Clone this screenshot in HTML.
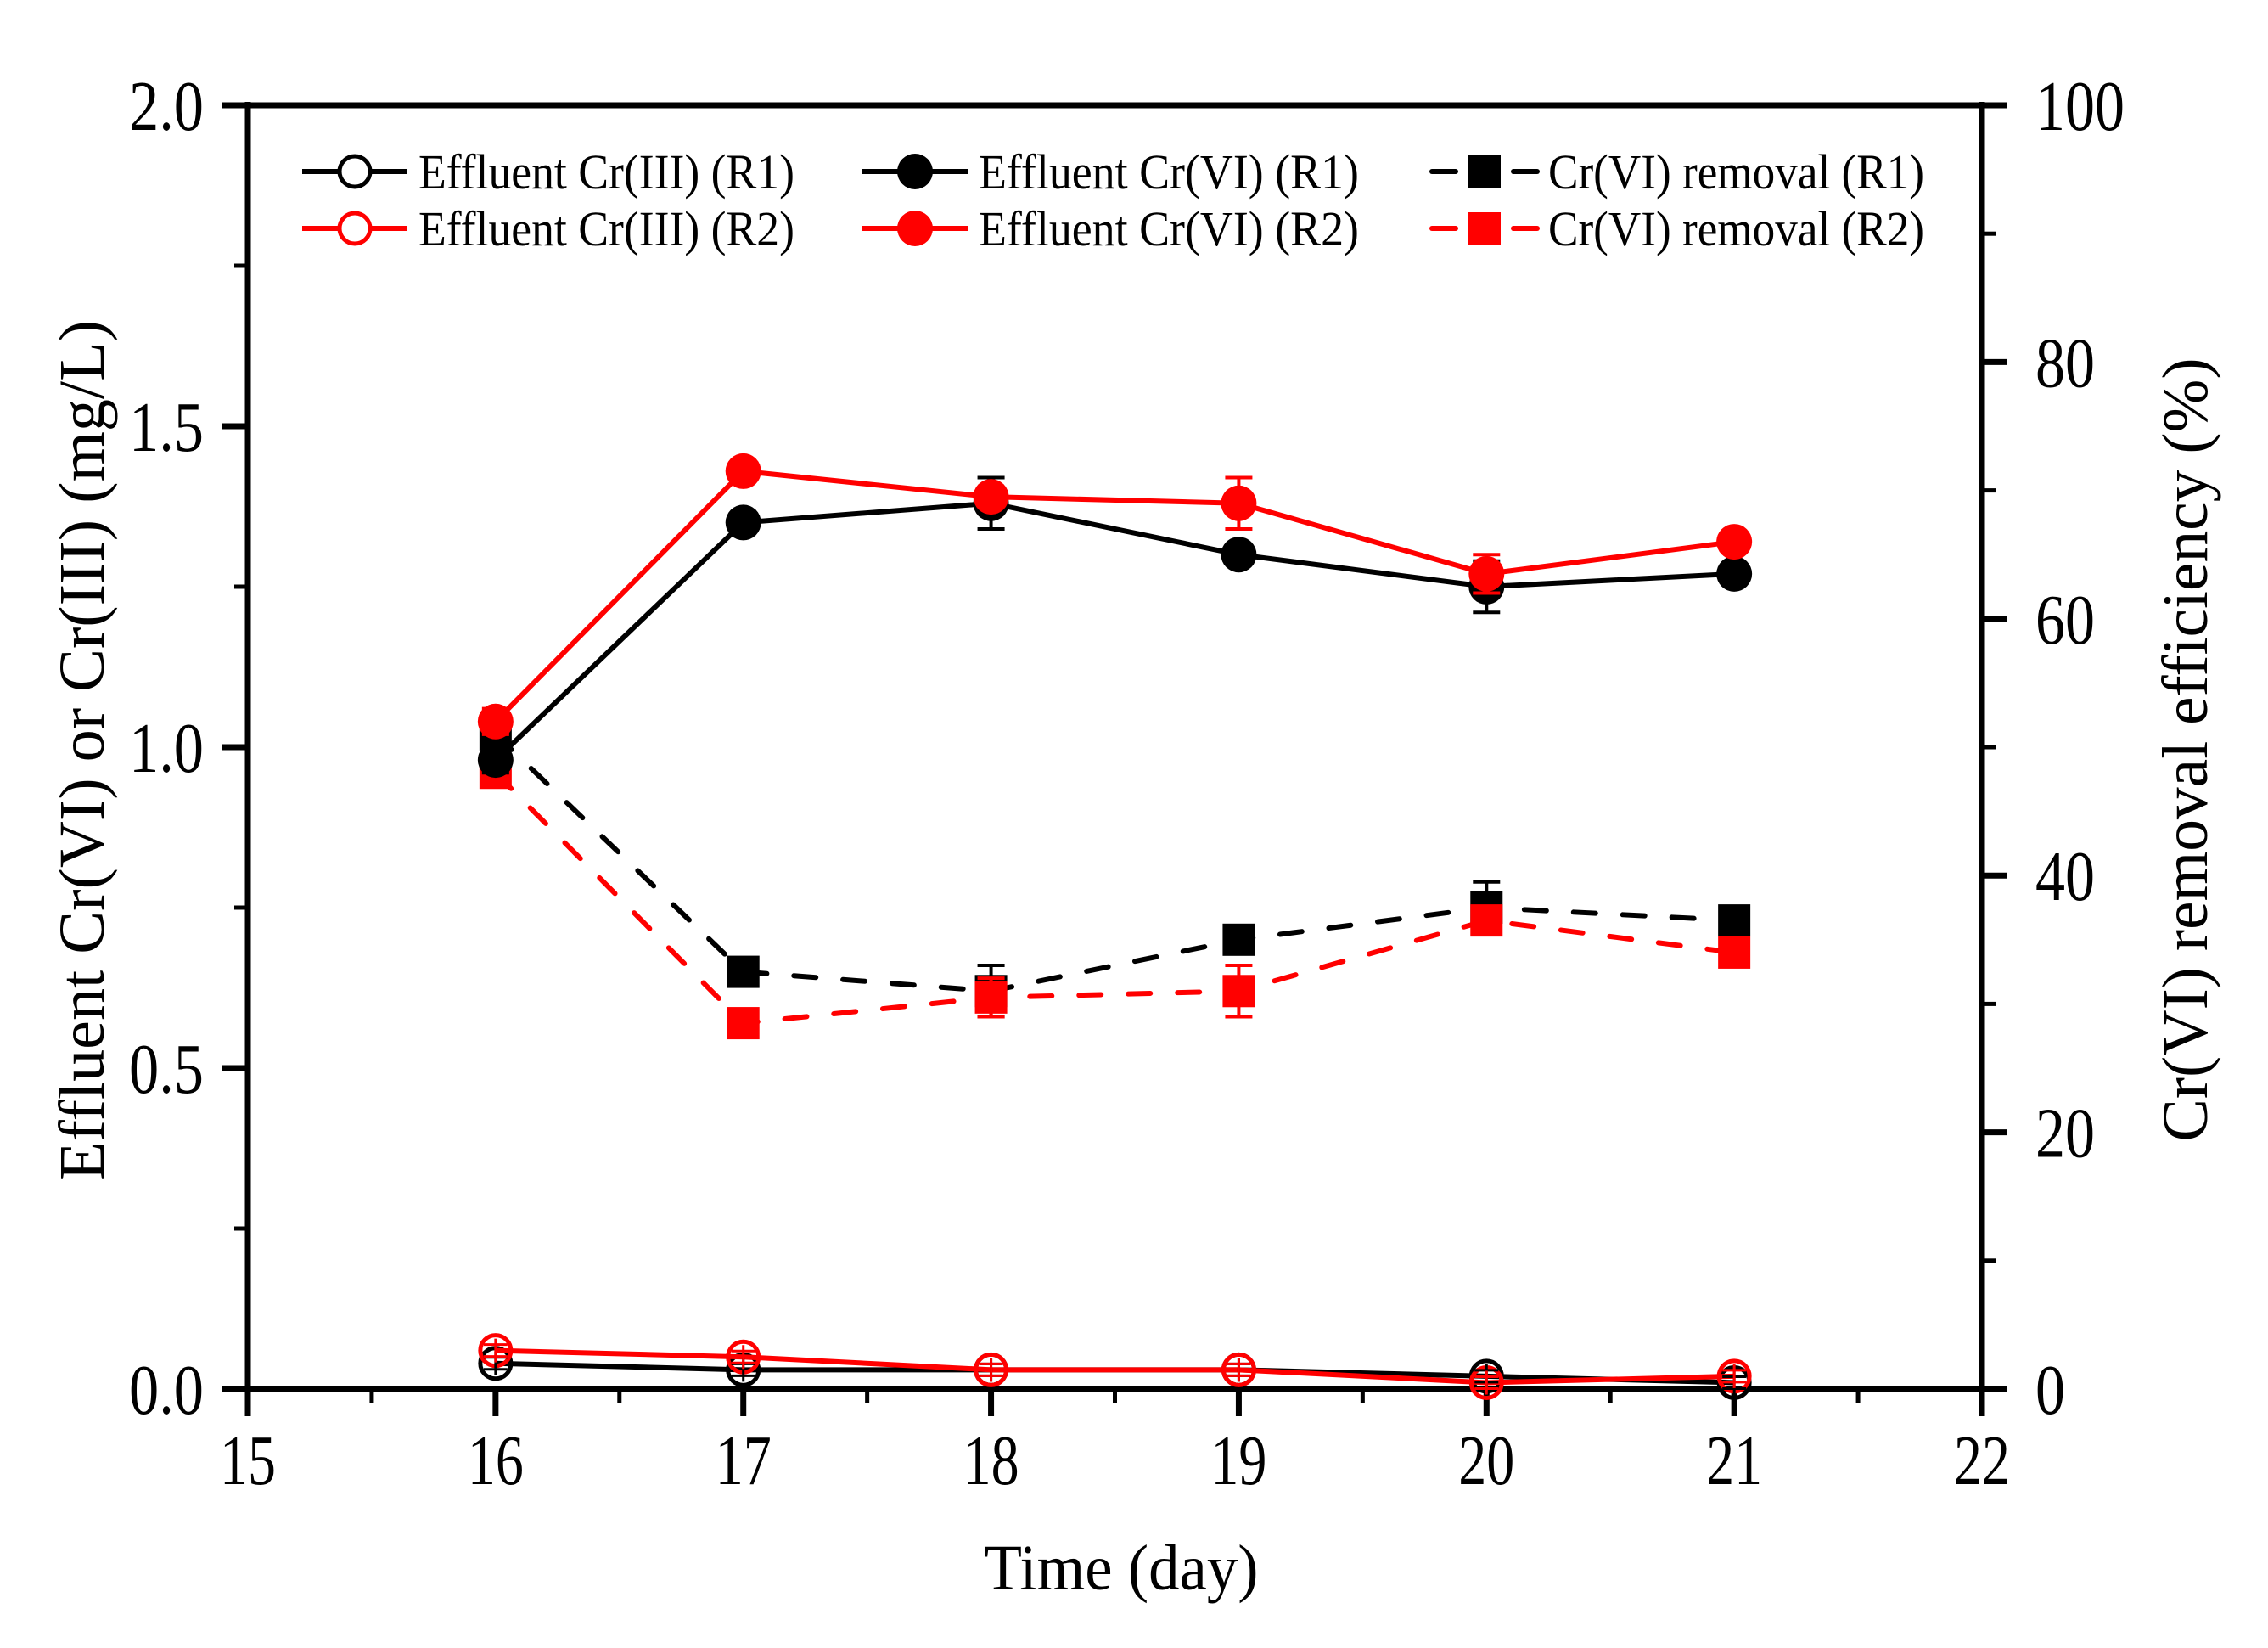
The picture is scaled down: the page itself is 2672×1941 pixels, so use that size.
<!DOCTYPE html>
<html><head><meta charset="utf-8"><style>
html,body{margin:0;padding:0;background:#fff;}
svg{display:block;}
text{font-family:"Liberation Serif",serif;fill:#000;}
</style></head><body>
<svg id="chart" width="2672" height="1941" viewBox="0 0 2672 1941" xmlns="http://www.w3.org/2000/svg">
<g id="plot"></g>
</svg>
<script>
const days = [16, 17, 18, 19, 20, 21];
const cr6R1 = [0.98, 1.35, 1.38, 1.30, 1.25, 1.27];
const cr6R1Err = [0.02, 0.0, 0.04, 0.0, 0.04, 0.0];
const cr6R2 = [1.04, 1.43, 1.39, 1.38, 1.27, 1.32];
const cr6R2Err = [0.02, 0.0, 0.0, 0.04, 0.03, 0.0];
const cr3R1 = [0.04, 0.03, 0.03, 0.03, 0.02, 0.01];
const cr3R2 = [0.06, 0.05, 0.03, 0.03, 0.01, 0.02];
const remR1 = [51, 32.5, 31, 35, 37.5, 36.5];
const remR1Err = [0, 0, 2, 0, 2, 0];
const remR2 = [48, 28.5, 30.5, 31, 36.5, 34];
const remR2Err = [0, 0, 1.5, 2, 1, 0];
const xTicks = [15, 16, 17, 18, 19, 20, 21, 22];
const yTicks = ["0.0", "0.5", "1.0", "1.5", "2.0"];
const y2Ticks = ["0", "20", "40", "60", "80", "100"];

const L = 292, R = 2335, T = 124, B = 1636;
const xs = d => L + (d - 15) / 7 * (R - L);
const ys = v => B - v / 2 * (B - T);
const ys2 = v => B - v / 100 * (B - T);
const NS = "http://www.w3.org/2000/svg";
const g = document.getElementById('plot');
function el(tag, attrs, parent) {
  const e = document.createElementNS(NS, tag);
  for (const k in attrs) e.setAttribute(k, attrs[k]);
  (parent || g).appendChild(e);
  return e;
}
function txt(s, attrs) { const t = el('text', attrs); t.textContent = s; return t; }

let a;
a = el('line', {x1: L, y1: B, x2: R + 4, y2: B, stroke: '#000', 'stroke-width': 7});


a = el('line', {x1: L - 4, y1: T, x2: R + 4, y2: T, stroke: '#000', 'stroke-width': 7});


a = el('line', {x1: L, y1: T - 4, x2: L, y2: B + 4, stroke: '#000', 'stroke-width': 7});


a = el('line', {x1: R, y1: T - 4, x2: R, y2: B + 4, stroke: '#000', 'stroke-width': 7});



xTicks.forEach((d, i) => {
  const x = xs(d);
  const t = el('line', {x1: x, y1: B, x2: x, y2: B + 32, stroke: '#000', 'stroke-width': 7});
  
  
  if (i < xTicks.length - 1) {
    const m = el('line', {x1: x + (xs(1) - xs(0)) / 2, y1: B, x2: x + (xs(1) - xs(0)) / 2, y2: B + 16, stroke: '#000', 'stroke-width': 5});
    
    
  }
  const lb = txt(String(d), {x: x, y: B + 112, 'font-size': 84, 'text-anchor': 'middle', textLength: 66, lengthAdjust: 'spacingAndGlyphs'});
  
  
});
yTicks.forEach((s, i) => {
  const v = parseFloat(s), y = ys(v);
  const t = el('line', {x1: L - 30, y1: y, x2: L, y2: y, stroke: '#000', 'stroke-width': 7});
  
  
  if (i < yTicks.length - 1) {
    const m = el('line', {x1: L - 16, y1: ys(v + 0.25), x2: L, y2: ys(v + 0.25), stroke: '#000', 'stroke-width': 5});
    
    
  }
  const lb = txt(s, {x: 240, y: y + 29, 'font-size': 84, 'text-anchor': 'end', textLength: 88, lengthAdjust: 'spacingAndGlyphs'});
  
  
});
y2Ticks.forEach((s, i) => {
  const v = parseFloat(s), y = ys2(v);
  const t = el('line', {x1: R, y1: y, x2: R + 30, y2: y, stroke: '#000', 'stroke-width': 7});
  
  
  if (i < y2Ticks.length - 1) {
    const m = el('line', {x1: R, y1: ys2(v + 10), x2: R + 16, y2: ys2(v + 10), stroke: '#000', 'stroke-width': 5});
    
    
  }
  const lb = txt(s, {x: 2398, y: y + 29, 'font-size': 84, 'text-anchor': 'start', textLength: s.length * 35, lengthAdjust: 'spacingAndGlyphs'});
  
  
});

let at = txt('Time (day)', {x: 1321, y: 1872, 'font-size': 76, 'text-anchor': 'middle', textLength: 323, lengthAdjust: 'spacingAndGlyphs'});


at = txt('Effluent Cr(VI) or Cr(III) (mg/L)', {x: 0, y: 0, 'font-size': 76, 'text-anchor': 'middle', textLength: 1014, lengthAdjust: 'spacingAndGlyphs', transform: 'translate(122,884) rotate(-90)'});


at = txt('Cr(VI) removal efficiency (%)', {x: 0, y: 0, 'font-size': 76, 'text-anchor': 'middle', textLength: 923, lengthAdjust: 'spacingAndGlyphs', transform: 'translate(2600,883) rotate(-90)'});



function errBars(vals, errs, scale, color, name) {
  days.forEach((d, i) => {
    if (!errs[i]) return;
    const x = xs(d), y1 = scale(vals[i] - errs[i]), y2 = scale(vals[i] + errs[i]);
    const e = el('path', {d: `M${x},${y1}V${y2}M${x-16},${y1}H${x+16}M${x-16},${y2}H${x+16}`, stroke: color, 'stroke-width': 4, fill: 'none'});
    
    
  });
}
function series(vals, scale, color, dashed, marker, name) {
  const pts = days.map((d, i) => xs(d) + ',' + scale(vals[i])).join(' ');
  const attrs = {points: pts, fill: 'none', stroke: color, 'stroke-width': 6};
  if (dashed) { attrs['stroke-dasharray'] = '26 32'; attrs['stroke-linecap'] = 'round'; }
  const pl = el('polyline', attrs);
  
  
  days.forEach((d, i) => {
    const x = xs(d), y = scale(vals[i]);
    let m;
    if (marker === 'open') m = el('circle', {cx: x, cy: y, r: 18, fill: 'none', stroke: color, 'stroke-width': 5});
    else if (marker === 'filled') m = el('circle', {cx: x, cy: y, r: 21, fill: color});
    else m = el('rect', {x: x - 19, y: y - 19, width: 38, height: 38, fill: color});
    
    
  });
}
errBars(remR1, remR1Err, ys2, '#000', 'removal-r1');
series(remR1, ys2, '#000', true, 'square', 'removal-r1');
errBars(remR2, remR2Err, ys2, '#f00', 'removal-r2');
series(remR2, ys2, '#f00', true, 'square', 'removal-r2');
errBars(cr6R1, cr6R1Err, ys, '#000', 'cr6-r1');
series(cr6R1, ys, '#000', false, 'filled', 'cr6-r1');
errBars(cr6R2, cr6R2Err, ys, '#f00', 'cr6-r2');
series(cr6R2, ys, '#f00', false, 'filled', 'cr6-r2');
series(cr3R1, ys, '#000', false, 'open', 'cr3-r1');
series(cr3R2, ys, '#f00', false, 'open', 'cr3-r2');
[cr3R1, cr3R2].forEach((arr, k) => days.forEach((d, i) => {
  const x = xs(d), y = ys(arr[i]);
  const c = k ? '#f00' : '#000';
  const e = el('path', {d: `M${x},${y-14}V${y+14}M${x-14},${y-7}H${x+14}M${x-14},${y+7}H${x+14}`, stroke: c, 'stroke-width': 3});
  
  
}));

const legend = el('g', {});


const legItems = [
  {x: 356, y: 202, c: '#000', m: 'open', dash: false, t: 'Effluent Cr(III) (R1)', w: 443},
  {x: 356, y: 269, c: '#f00', m: 'open', dash: false, t: 'Effluent Cr(III) (R2)', w: 443},
  {x: 1016, y: 202, c: '#000', m: 'filled', dash: false, t: 'Effluent Cr(VI) (R1)', w: 448},
  {x: 1016, y: 269, c: '#f00', m: 'filled', dash: false, t: 'Effluent Cr(VI) (R2)', w: 448},
  {x: 1687, y: 202, c: '#000', m: 'square', dash: true, t: 'Cr(VI) removal (R1)', w: 443},
  {x: 1687, y: 269, c: '#f00', m: 'square', dash: true, t: 'Cr(VI) removal (R2)', w: 443},
];
legItems.forEach(it => {
  const grp = el('g', {}, legend);
  
  
  const cx = it.x + 62;
  if (it.dash) {
    el('line', {x1: it.x, y1: it.y, x2: it.x + 28, y2: it.y, stroke: it.c, 'stroke-width': 6, 'stroke-linecap': 'round'}, grp);
    el('line', {x1: it.x + 96, y1: it.y, x2: it.x + 124, y2: it.y, stroke: it.c, 'stroke-width': 6, 'stroke-linecap': 'round'}, grp);
  } else {
    el('line', {x1: it.x, y1: it.y, x2: it.x + 124, y2: it.y, stroke: it.c, 'stroke-width': 6}, grp);
  }
  if (it.m === 'open') el('circle', {cx: cx, cy: it.y, r: 18, fill: '#fff', stroke: it.c, 'stroke-width': 5}, grp);
  else if (it.m === 'filled') el('circle', {cx: cx, cy: it.y, r: 21, fill: it.c}, grp);
  else el('rect', {x: cx - 19, y: it.y - 19, width: 38, height: 38, fill: it.c}, grp);
  const tx = el('text', {x: it.x + 137, y: it.y + 20, 'font-size': 58, textLength: it.w, lengthAdjust: 'spacingAndGlyphs'}, grp);
  tx.textContent = it.t;
});
</script>
</body></html>
